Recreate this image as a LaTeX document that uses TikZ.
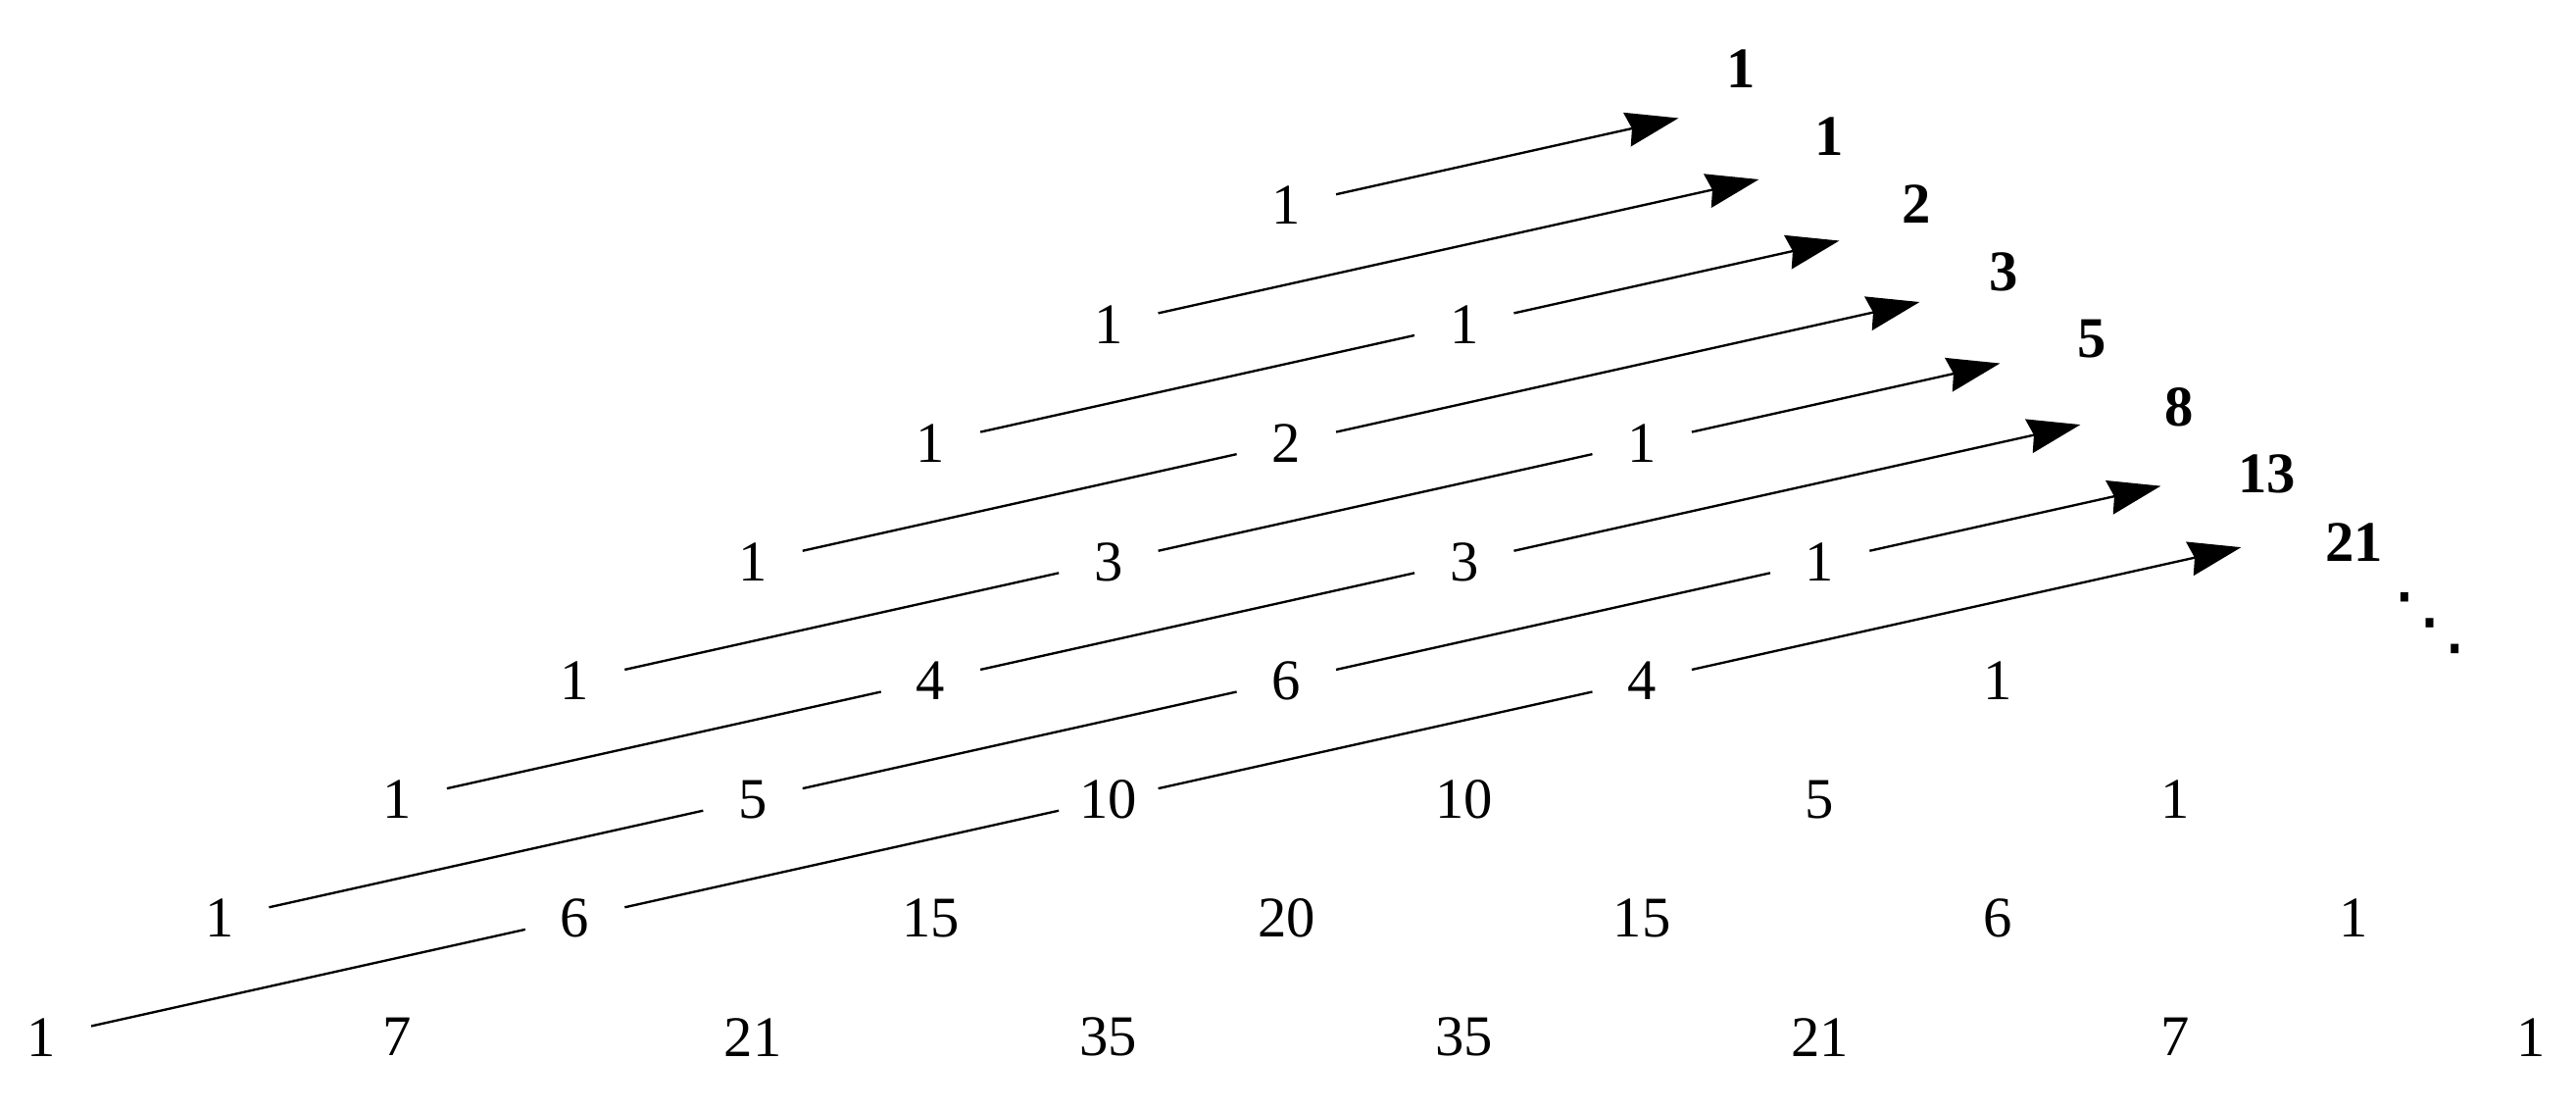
\documentclass[tikz,border=0pt]{standalone}
\usepackage{fontspec}
\setmainfont{Liberation Serif}
\newfontfamily\dvfont{DejaVu Sans}
\usetikzlibrary{arrows.meta,calc}
\begin{document}
\begin{tikzpicture}[x=1pt,y=-1pt,
  num/.style={font=\fontsize{35}{40}\selectfont, inner sep=0pt},
  fib/.style={font=\fontsize{35}{40}\selectfont\bfseries, inner sep=0pt},
  seg/.style={line width=1.4pt, shorten <=31pt, shorten >=31pt},
  arr/.style={line width=1.4pt, shorten <=31pt, -{Stealth[length=32pt,width=21pt,inset=3pt]}}]
\useasboundingbox (0,0) rectangle (1568,675);
\foreach \r [count=\n from 0] in {{1},{1,1},{1,2,1},{1,3,3,1},{1,4,6,4,1},{1,5,10,10,5,1},{1,6,15,20,15,6,1},{1,7,21,35,35,21,7,1}}{
  \foreach \v [count=\k from 0] in \r {
    \node[num] (p\n-\k) at ({783+(2*\k-\n)*108.25},{125+72.3*\n}) {\v};
  }
}
\foreach \f [count=\n from 0] in {1,1,2,3,5,8,13,21}{
  \node[fib] (f\n) at ({1060+53.3*\n},{42+41.1*\n}) {\f};
}
\node[num, font=\fontsize{46}{50}\selectfont\dvfont] (dots) at (1479,379) {⋱};
\foreach \n in {0,...,7}{
  \pgfmathtruncatemacro\m{floor(\n/2)}
  \ifnum\m>0
  \foreach \j in {1,...,\m}{
    \pgfmathtruncatemacro\a{\n-\j+1}
    \pgfmathtruncatemacro\b{\j-1}
    \pgfmathtruncatemacro\c{\n-\j}
    \draw[seg] (p\a-\b.center) -- (p\c-\j.center);
  }
  \fi
  \pgfmathtruncatemacro\c{\n-\m}
  \pgfmathsetmacro\t{0.735+0.484*\n}
  \coordinate (t\n) at ($(p\n-0.center)+(\t*324.75,-\t*72.3)$);
  \draw[arr] (p\c-\m.center) -- (t\n);
}
\end{tikzpicture}
\end{document}
